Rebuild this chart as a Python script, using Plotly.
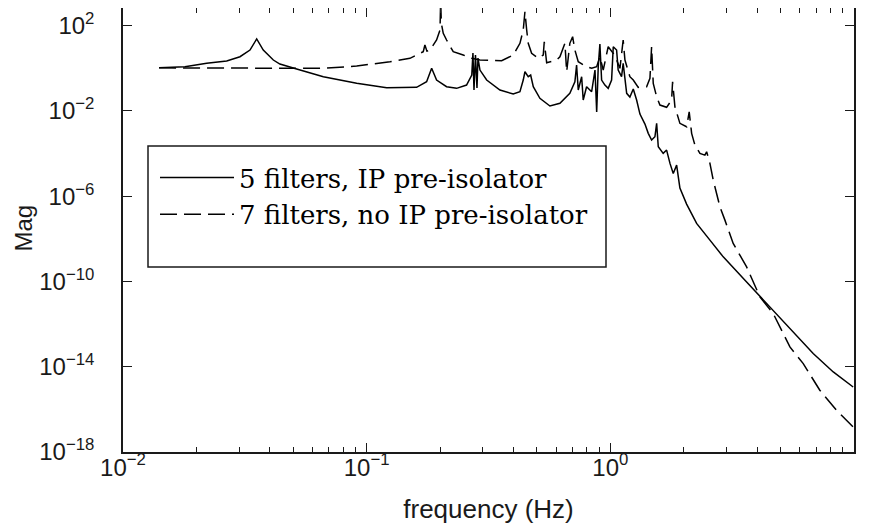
import plotly.graph_objects as go

# ---- data (frequency in Hz, magnitude) ----
solid_freq = [0.01406, 0.01795, 0.02205, 0.02664, 0.0302, 0.0332, 0.03537, 0.03764, 0.0414, 0.04405,
              0.0516, 0.0664, 0.091, 0.1208, 0.1603, 0.1762, 0.1848, 0.1936, 0.2128, 0.2339,
              0.257, 0.27, 0.273, 0.2757, 0.2796, 0.2836, 0.2863, 0.2917, 0.3108, 0.3524,
              0.3995, 0.4256, 0.4391, 0.4462, 0.4603, 0.471, 0.4828, 0.514, 0.565, 0.621,
              0.682, 0.7154, 0.727, 0.7385, 0.7626, 0.774, 0.799, 0.838, 0.865, 0.879,
              0.892, 0.906, 0.921, 0.95, 0.98, 1.012, 1.028, 1.061, 1.077, 1.112,
              1.129, 1.167, 1.203, 1.242, 1.282, 1.323, 1.387, 1.431, 1.477, 1.524,
              1.549, 1.573, 1.648, 1.702, 1.757, 1.812, 1.871, 1.899, 1.93, 2.056,
              2.26, 2.563, 2.906, 3.625, 4.38, 5.457, 6.80, 8.22, 9.92]
solid_mag = [1.07, 1.19, 1.72, 2.2, 3.5, 7.2, 23.8, 7.2, 2.45, 1.59,
             0.927, 0.404, 0.198, 0.123, 0.128, 0.235, 1.0, 0.282, 0.137, 0.115,
             0.164, 0.484, 5.2, 0.096, 4.2, 0.119, 3.05, 0.83, 0.282, 0.096,
             0.062, 0.0796, 0.282, 0.69, 0.404, 0.484, 0.137, 0.039, 0.017, 0.0228,
             0.067, 0.235, 1.43, 0.096, 0.404, 0.0325, 0.137, 0.0796, 0.83, 0.0089,
             1.19, 13.8, 0.282, 0.164, 0.115, 0.282, 10.3, 7.2, 0.83, 0.404,
             1.72, 0.067, 0.045, 0.107, 0.0325, 0.00715, 0.00243, 8.9e-4, 4.3e-4, 6.15e-4,
             0.00262, 2.08e-4, 1.02e-4, 1.46e-4, 3.47e-5, 1.17e-5, 2.88e-5, 7.9e-6, 2.4e-6, 4.26e-7,
             5.3e-8, 8.7e-9, 1.43e-9, 9.5e-11, 9.3e-12, 6.2e-13, 4.17e-14, 5.7e-15, 1.12e-15]

dashed_freq = [0.01406, 0.0332, 0.0662, 0.091, 0.1246, 0.1505, 0.1707, 0.1734, 0.1767, 0.1819,
               0.1936, 0.2, 0.2012, 0.2025, 0.2062, 0.2128, 0.2266, 0.249, 0.27, 0.2917,
               0.33, 0.358, 0.3995, 0.4256, 0.4391, 0.4462, 0.4536, 0.4603, 0.4753, 0.506,
               0.5305, 0.5356, 0.548, 0.602, 0.621, 0.651, 0.662, 0.682, 0.7003, 0.7154,
               0.7385, 0.799, 0.838, 0.879, 0.906, 0.935, 0.98, 1.028, 1.061, 1.095,
               1.129, 1.148, 1.203, 1.242, 1.302, 1.409, 1.454, 1.477, 1.5, 1.549,
               1.598, 1.702, 1.784, 1.801, 1.841, 1.93, 2.056, 2.107, 2.156, 2.224,
               2.332, 2.444, 2.484, 2.563, 2.644, 2.731, 2.817, 2.953, 3.193, 3.625,
               4.11, 4.66, 5.457, 6.19, 7.24, 8.48, 9.92]
dashed_mag = [1.05, 1.0, 1.0, 1.28, 2.04, 2.95, 6.0, 12.4, 6.4, 7.2,
              21.3, 62.8, 1500, 130, 44, 21.3, 6.0, 4.2, 2.95, 2.45,
              2.27, 2.27, 4.2, 14.9, 62.8, 454, 62.8, 14.9, 5.06, 2.95,
              4.2, 17.7, 1.83, 2.45, 3.5, 14.9, 0.69, 14.9, 30.5, 7.2,
              2.04, 1.19, 1.0, 1.19, 3.5, 0.83, 10.3, 5.06, 2.45, 1.0,
              21.3, 2.45, 0.404, 0.282, 0.128, 0.137, 0.34, 10.3, 0.198, 0.0465,
              0.0189, 0.0148, 0.0325, 0.235, 0.0157, 0.00262, 0.00181, 0.00917, 8.9e-4, 2.5e-4,
              1.02e-4, 8.5e-5, 1.22e-4, 3.47e-5, 5.7e-6, 1.35e-6, 3.18e-7, 7.55e-8, 6.1e-9, 4.84e-10,
              1.89e-11, 3.15e-12, 8.5e-14, 1.41e-14, 7.9e-16, 9.1e-17, 1.48e-17]

series_names = ["5 filters, IP pre-isolator", "7 filters, no IP pre-isolator"]

x_tickvals = [0.01, 0.1, 1, 10]
x_ticktext = ["10<sup>\u22122</sup>", "10<sup>\u22121</sup>", "10<sup>0</sup>", "10<sup>1</sup>"]
y_tickvals = [1e2, 1e-2, 1e-6, 1e-10, 1e-14, 1e-18]
y_ticktext = ["10<sup>2</sup>", "10<sup>\u22122</sup>", "10<sup>\u22126</sup>",
              "10<sup>\u221210</sup>", "10<sup>\u221214</sup>", "10<sup>\u221218</sup>"]

ink = "#1a1a1a"
sans = "Liberation Sans, Arial, sans-serif"
serif = "DejaVu Serif, Liberation Serif, serif"

fig = go.Figure()
fig.add_trace(go.Scatter(x=solid_freq, y=solid_mag, mode="lines", name=series_names[0],
                         line=dict(color="black", width=1.5)))
fig.add_trace(go.Scatter(x=dashed_freq, y=dashed_mag, mode="lines", name=series_names[1],
                         line=dict(color="black", width=1.5, dash="17px,7px")))

axis_common = dict(
    showline=True, linecolor=ink, linewidth=1.5, mirror="ticks",
    ticks="inside", ticklen=9, tickwidth=1.2, tickcolor=ink,
    showgrid=False, zeroline=False, automargin=False,
    tickfont=dict(family=sans, size=24, color=ink),
)

fig.update_xaxes(type="log", range=[-2, 1], tickmode="array",
                 tickvals=x_tickvals, ticktext=x_ticktext,
                 minor=dict(ticks="inside", ticklen=5, tickwidth=1.2, tickcolor=ink,
                            dtick="D1", showgrid=False),
                 ticklabelstandoff=-7,
                 title=dict(text="frequency (Hz)", font=dict(family=sans, size=26, color=ink), standoff=20),
                 **axis_common)
fig.update_yaxes(type="log", range=[-18, 2.83], tickmode="array",
                 tickvals=y_tickvals, ticktext=y_ticktext,
                 ticklabelstandoff=22,
                 **axis_common)

# The page body adds an 8px offset, so the figure is sized to fit the window.
OFF = 8
W, H = 869 - OFF, 525 - OFF
L, R, T, B = 115, 15, 0, 73
pw, ph = W - L - R, H - T - B

def px_x(p):  # window pixel -> paper x
    return (p - OFF - L) / pw

def px_y(p):  # window pixel -> paper y
    return (H - B - (p - OFF)) / ph

fig.add_shape(type="rect", xref="paper", yref="paper",
              x0=px_x(148), x1=px_x(606), y0=px_y(267), y1=px_y(146),
              line=dict(color=ink, width=1.5), fillcolor="white", layer="above")

# y-axis title
fig.add_annotation(text="Mag", xref="paper", yref="paper", x=px_x(8), y=px_y(228),
                   xanchor="left", yanchor="middle", textangle=-90, showarrow=False,
                   borderpad=0, font=dict(family=sans, size=24, color=ink))

fig.update_layout(
    width=W, height=H,
    margin=dict(l=L, r=R, t=T, b=B, pad=0, autoexpand=False),
    paper_bgcolor="white", plot_bgcolor="white",
    showlegend=True,
    legend=dict(x=px_x(155), y=px_y(154), xanchor="left", yanchor="top",
                bgcolor="rgba(0,0,0,0)", borderwidth=0,
                font=dict(family=serif, size=26, color="black"),
                itemwidth=74, tracegroupgap=0),
)

fig.write_html("out.html")
